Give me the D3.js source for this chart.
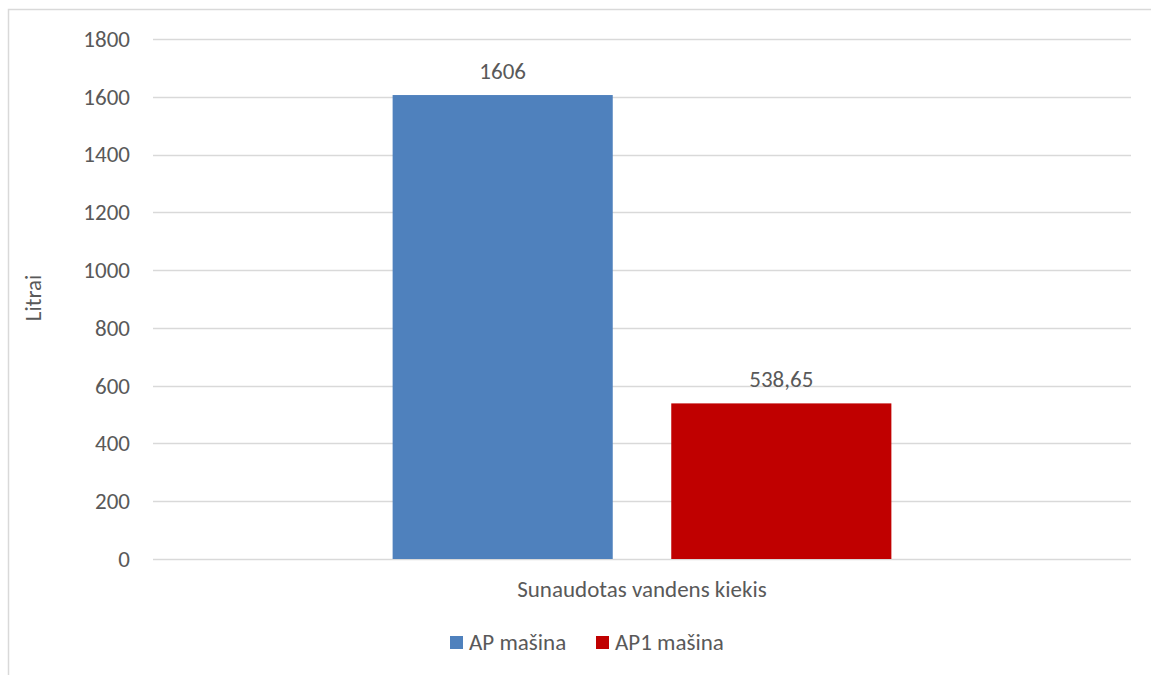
<!DOCTYPE html>
<html><head><meta charset="utf-8">
<script src="https://cdn.jsdelivr.net/npm/d3@7"></script>
<style>body{margin:0;background:#fff}svg{display:block}text{font-family:Carlito,Lato,"Liberation Sans",sans-serif;fill:#595959}</style>
</head><body>
<script>
const categories = ["Sunaudotas vandens kiekis"];
const seriesNames = ["AP mašina", "AP1 mašina"];
const seriesValues = [1606, 538.65];
const valueLabels = ["1606", "538,65"];
const colors = ["#4F81BD", "#C00000"];
const yTicks = [0, 200, 400, 600, 800, 1000, 1200, 1400, 1600, 1800];

(function(){
const W = 1151, H = 675, FS = "23px";
const svg = d3.select("body").append("svg").attr("width", W).attr("height", H);

// outer frame (cut off at right/bottom)
svg.append("path").attr("d", `M8.5,${H+2}V9.5H${W+2}`).attr("fill","none").attr("stroke","#D9D9D9").attr("stroke-width",1.5);

const pL = 153, pR = 1131, pT = 39, pB = 559;
const y = d3.scaleLinear().domain([0, 1800]).range([pB, pT]);
const x0 = d3.scaleBand().domain(categories).range([pL, pR]);
const x1 = d3.scaleBand().domain(seriesNames).range([0, x0.bandwidth()]).paddingInner(0.21).paddingOuter(0.86);

// gridlines
svg.append("g").selectAll("line").data(yTicks).join("line")
  .attr("x1", pL).attr("x2", pR)
  .attr("y1", d => Math.round(y(d)) + 0.5).attr("y2", d => Math.round(y(d)) + 0.5)
  .attr("stroke", "#D9D9D9").attr("stroke-width", 1.3);

// y axis labels
const yAxis = d3.axisLeft(y).tickValues(yTicks).tickFormat(d3.format("d")).tickSize(0).tickPadding(0);
const ga = svg.append("g").attr("transform", `translate(130,0)`).call(yAxis);
ga.select(".domain").remove();
ga.attr("font-size", null).attr("font-family", null);
ga.selectAll("text").style("font-size", FS).attr("fill","#595959");

// bars
const data = seriesNames.map((s,i) => ({s, v: seriesValues[i], lab: valueLabels[i], c: colors[i], cat: categories[0]}));
svg.append("g").selectAll("rect").data(data).join("rect")
  .attr("x", d => x0(d.cat) + x1(d.s))
  .attr("width", x1.bandwidth())
  .attr("y", d => y(d.v))
  .attr("height", d => y(0) - y(d.v))
  .attr("fill", d => d.c);

// value labels
svg.append("g").selectAll("text").data(data).join("text")
  .attr("x", d => x0(d.cat) + x1(d.s) + x1.bandwidth()/2)
  .attr("y", d => y(d.v) - 16)
  .attr("text-anchor","middle").style("font-size", FS)
  .text(d => d.lab);

// category label
svg.append("g").selectAll("text").data(categories).join("text")
  .attr("x", d => x0(d) + x0.bandwidth()/2).attr("y", 597)
  .attr("text-anchor","middle").style("font-size", FS).text(d => d);

// y title
svg.append("text").attr("transform","translate(41,298) rotate(-90)")
  .attr("text-anchor","middle").style("font-size", FS).text("Litrai");

// legend
const legX = [450, 596];
const lg = svg.append("g").selectAll("g").data(data).join("g")
  .attr("transform", (d,i) => `translate(${legX[i]},636)`);
lg.append("rect").attr("width",13).attr("height",13).attr("fill", d => d.c);
lg.append("text").attr("x",19).attr("y",14).style("font-size", FS).text(d => d.s);
})();
</script>
</body></html>
